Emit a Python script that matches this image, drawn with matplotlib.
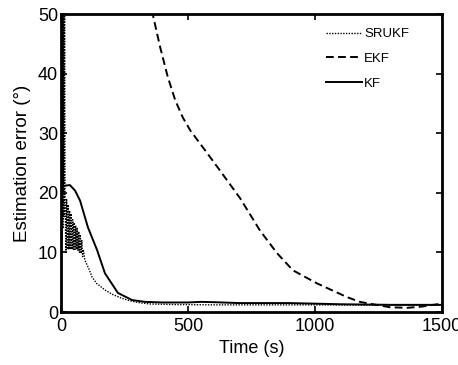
import matplotlib
matplotlib.use("Agg")
import matplotlib.pyplot as plt

plt.rcParams['font.family'] = ['Liberation Sans', 'DejaVu Sans']

# SRUKF (dotted)
t_srukf = [0, 2, 4, 6, 8, 10, 12, 14, 16,
           19, 22, 25, 28, 31, 34, 37, 40, 43, 46, 49, 52, 55, 58, 61, 64,
           67, 70, 73, 76, 79, 82, 85, 88, 94,
           110, 122, 140, 173, 200, 240, 270, 303, 350, 450, 600, 800,
           1000, 1200, 1400, 1500]
e_srukf = [10, 58, 12, 58, 14, 58, 16, 55, 20,
           10, 19, 10.5, 18, 10.5, 17, 10.5, 16.5, 10.5, 15.5, 10.5, 15, 10.5, 14.5, 10.5, 14,
           10.3, 13.5, 10, 13, 9.8, 12, 9.3, 10.5, 8.7,
           7.2, 5.9, 4.8, 3.7, 3.0, 2.3, 1.9, 1.6, 1.35, 1.25, 1.2, 1.2,
           1.2, 1.15, 1.15, 1.2]

# EKF (dashed)
t_ekf = [330, 361, 390, 420, 450, 480, 510, 547, 618, 705, 783, 850, 913, 1008,
         1126, 1177, 1228, 1295, 1362, 1420, 1465, 1500]
e_ekf = [54, 50, 44.5, 39.5, 35.5, 32.6, 30.4, 28.3, 24.2, 19.1, 13.7, 9.9, 7.0, 4.8,
         2.5, 1.7, 1.3, 0.8, 0.7, 0.9, 1.2, 1.4]

# KF (solid)
t_kf = [0, 1, 2, 6, 8, 16, 35, 55, 75, 106, 142, 173, 224, 280, 331,
        400, 500, 550, 600, 700, 800, 900, 1000, 1100, 1200, 1300, 1400, 1500]
e_kf = [10, 10, 60, 60, 21, 21.2, 21.3, 20.4, 18.7, 14.2, 10.4, 6.5, 3.2, 2.0, 1.7,
        1.6, 1.6, 1.7, 1.65, 1.5, 1.5, 1.5, 1.4, 1.3, 1.25, 1.2, 1.2, 1.2]

xticks = [0, 500, 1000, 1500]
yticks = [0, 10, 20, 30, 40, 50]

fig = plt.figure(figsize=(4.58, 3.65), dpi=100)
ax = fig.add_axes([0.1332, 0.1452, 0.965 - 0.1332, 0.9616 - 0.1452])

ax.plot(t_srukf, e_srukf, color='black', linestyle=(0, (1, 1)), linewidth=1.0, label='SRUKF')
ax.plot(t_ekf, e_ekf, color='black', linestyle=(0, (4, 2.2)), linewidth=1.4, label='EKF')
ax.plot(t_kf, e_kf, color='black', linestyle='-', linewidth=1.4, label='KF')

ax.set_xlim(0, 1500)
ax.set_ylim(0, 50)
ax.set_xticks(xticks)
ax.set_yticks(yticks)
ax.tick_params(direction='in', top=True, right=True, length=4, width=1.2,
               labelsize=13)
ax.tick_params(axis='x', pad=4)
ax.tick_params(axis='y', pad=2)
for s in ax.spines.values():
    s.set_linewidth(2.0)

ax.set_xlabel('Time (s)', fontsize=13, labelpad=4)
ax.set_ylabel('Estimation error (°)', fontsize=13.5, labelpad=5)

leg = ax.legend(loc='upper right', frameon=False, fontsize=9.5,
                handlelength=2.7, handletextpad=0.2, labelspacing=0.95,
                bbox_to_anchor=(0.935, 0.98), borderaxespad=0.2)

fig.savefig('out.png', dpi=100)
